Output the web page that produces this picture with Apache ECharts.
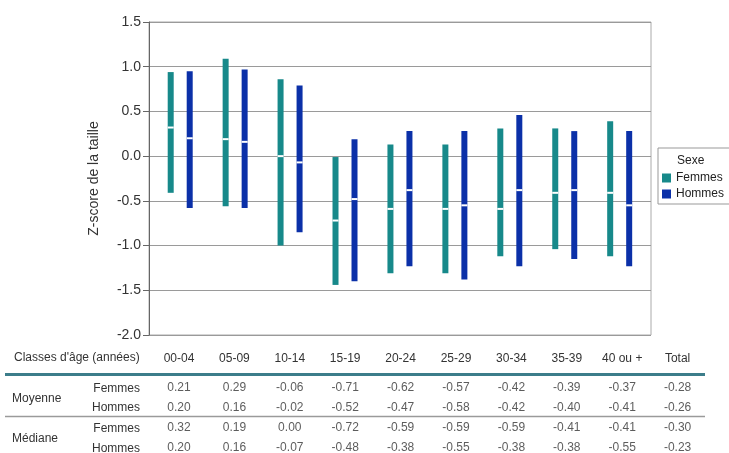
<!DOCTYPE html>
<html><head><meta charset="utf-8">
<script src="https://cdn.jsdelivr.net/npm/echarts@6/dist/echarts.min.js"></script>
<style>html,body{margin:0;padding:0;background:#fff}#c{width:729px;height:453px}</style>
</head><body><div id="c"></div>
<script>
const categories = ['00-04','05-09','10-14','15-19','20-24','25-29','30-34','35-39','40 ou +'];
const tableCols = ['00-04','05-09','10-14','15-19','20-24','25-29','30-34','35-39','40 ou +','Total'];
const yTicks = [-2.0,-1.5,-1.0,-0.5,0.0,0.5,1.0,1.5];
// range bars (min / max)
const femmesMax = [0.94, 1.09, 0.86, -0.01, 0.13, 0.13, 0.31, 0.31, 0.39];
const femmesMin = [-0.41, -0.56, -1.00, -1.44, -1.31, -1.31, -1.12, -1.04, -1.12];
const hommesMax = [0.95, 0.97, 0.79, 0.19, 0.28, 0.28, 0.46, 0.28, 0.28];
const hommesMin = [-0.58, -0.58, -0.85, -1.40, -1.23, -1.38, -1.23, -1.15, -1.23];
// table values
const moyFemmes = [0.21, 0.29, -0.06, -0.71, -0.62, -0.57, -0.42, -0.39, -0.37, -0.28];
const moyHommes = [0.20, 0.16, -0.02, -0.52, -0.47, -0.58, -0.42, -0.40, -0.41, -0.26];
const medFemmes = [0.32, 0.19, 0.00, -0.72, -0.59, -0.59, -0.59, -0.41, -0.41, -0.30];
const medHommes = [0.20, 0.16, -0.07, -0.48, -0.38, -0.55, -0.38, -0.38, -0.55, -0.23];

const FONT = 'Liberation Sans, Arial, sans-serif';
const TEAL = '#17898a', BLUE = '#0b30a8';
const TF = '12px ' + FONT;

function render(color, offset) {
  return function (params, api) {
    const i = api.value(0);
    const lo = api.coord([i, api.value(1)]);
    const hi = api.coord([i, api.value(2)]);
    const md = api.coord([i, api.value(3)]);
    const w = 6;
    const x = lo[0] + offset - w / 2;
    return { type: 'group', children: [
      { type: 'rect', shape: { x: x, y: hi[1], width: w, height: lo[1] - hi[1] }, style: { fill: color } },
      { type: 'rect', shape: { x: x, y: md[1] - 1, width: w, height: 2 }, style: { fill: '#ffffff' } }
    ]};
  };
}
function barData(mn, mx, md) { return categories.map((c, i) => [i, mn[i], mx[i], md[i]]); }

const tableRows = [moyFemmes, moyHommes, medFemmes, medHommes];
const tableData = [];
tableRows.forEach((row, r) => row.forEach((v, c) => tableData.push([c, r, v])));

const chart = echarts.init(document.getElementById('c'));
chart.setOption({
  animation: false,
  textStyle: { fontFamily: FONT },
  grid: [
    { left: 149, top: 22, right: 78, bottom: 118, show: true, borderColor: '#aaaaaa', borderWidth: 1 },
    { left: 151.3, top: 378, width: 554, bottom: 0 }
  ],
  xAxis: [
    { type: 'value', gridIndex: 0, min: -0.568, max: 8.57, show: false },
    { type: 'category', gridIndex: 1, data: tableCols, position: 'top',
      axisLine: { show: false }, axisTick: { show: false },
      axisLabel: { margin: 13, fontSize: 12, color: '#333', fontFamily: FONT } }
  ],
  yAxis: [
    { type: 'value', gridIndex: 0, min: -2, max: 1.5, interval: 0.5,
      name: 'Z-score de la taille', nameLocation: 'middle', nameGap: 48, nameRotate: 90,
      nameTextStyle: { fontSize: 14, color: '#333', fontFamily: FONT },
      axisLine: { show: true, onZero: false, lineStyle: { color: '#666' } },
      axisTick: { show: true, length: 6, lineStyle: { color: '#666' } },
      axisLabel: { fontSize: 14, color: '#333', margin: 8, fontFamily: FONT,
        formatter: v => v.toFixed(1) },
      splitLine: { lineStyle: { color: '#9a9a9a' } } },
    { type: 'value', gridIndex: 1, inverse: true, min: -0.5, max: 3.25, show: false, splitLine: { show: false } }
  ],
  legend: {
    data: ['Femmes', 'Hommes'], orient: 'vertical', left: 658, top: 148,
    padding: [24, 40, 4, 4], itemGap: 4, itemWidth: 9, itemHeight: 9,
    borderColor: '#999', borderWidth: 1, backgroundColor: '#fff',
    textStyle: { fontSize: 12, color: '#222', fontFamily: FONT }, icon: 'rect'
  },
  graphic: [
    { type: 'text', z: 100, left: 677, top: 155, style: { text: 'Sexe', font: TF, fill: '#222' } },
    { type: 'text', left: 14, top: 352, style: { text: "Classes d'âge (années)", font: TF, fill: '#333' } },
    { type: 'line', shape: { x1: 5, y1: 374.5, x2: 705, y2: 374.5 }, style: { stroke: '#3c7d8a', lineWidth: 3 } },
    { type: 'line', shape: { x1: 5, y1: 416.5, x2: 705, y2: 416.5 }, style: { stroke: '#9a9a9a', lineWidth: 1.5 } },
    { type: 'text', left: 12, top: 392.5, style: { text: 'Moyenne', font: TF, fill: '#333' } },
    { type: 'text', left: 12, top: 432.5, style: { text: 'Médiane', font: TF, fill: '#333' } },
    { type: 'text', right: 589, top: 382.5, style: { text: 'Femmes', font: TF, fill: '#333' } },
    { type: 'text', right: 589, top: 401.5, style: { text: 'Hommes', font: TF, fill: '#333' } },
    { type: 'text', right: 589, top: 422.5, style: { text: 'Femmes', font: TF, fill: '#333' } },
    { type: 'text', right: 589, top: 442.5, style: { text: 'Hommes', font: TF, fill: '#333' } }
  ],
  series: [
    { name: 'Femmes', type: 'custom', xAxisIndex: 0, yAxisIndex: 0, itemStyle: { color: TEAL },
      renderItem: render(TEAL, -9.5), encode: { x: 0, y: [1, 2] },
      data: barData(femmesMin, femmesMax, medFemmes.slice(0, 9)) },
    { name: 'Hommes', type: 'custom', xAxisIndex: 0, yAxisIndex: 0, itemStyle: { color: BLUE },
      renderItem: render(BLUE, 9.5), encode: { x: 0, y: [1, 2] },
      data: barData(hommesMin, hommesMax, medHommes.slice(0, 9)) },
    { name: 'table', type: 'scatter', xAxisIndex: 1, yAxisIndex: 1, symbolSize: 1,
      itemStyle: { color: 'rgba(0,0,0,0)' },
      label: { show: true, position: 'inside', fontSize: 12, color: '#333', fontFamily: FONT,
        formatter: p => p.value[2].toFixed(2) },
      data: tableData }
  ]
});
</script></body></html>
